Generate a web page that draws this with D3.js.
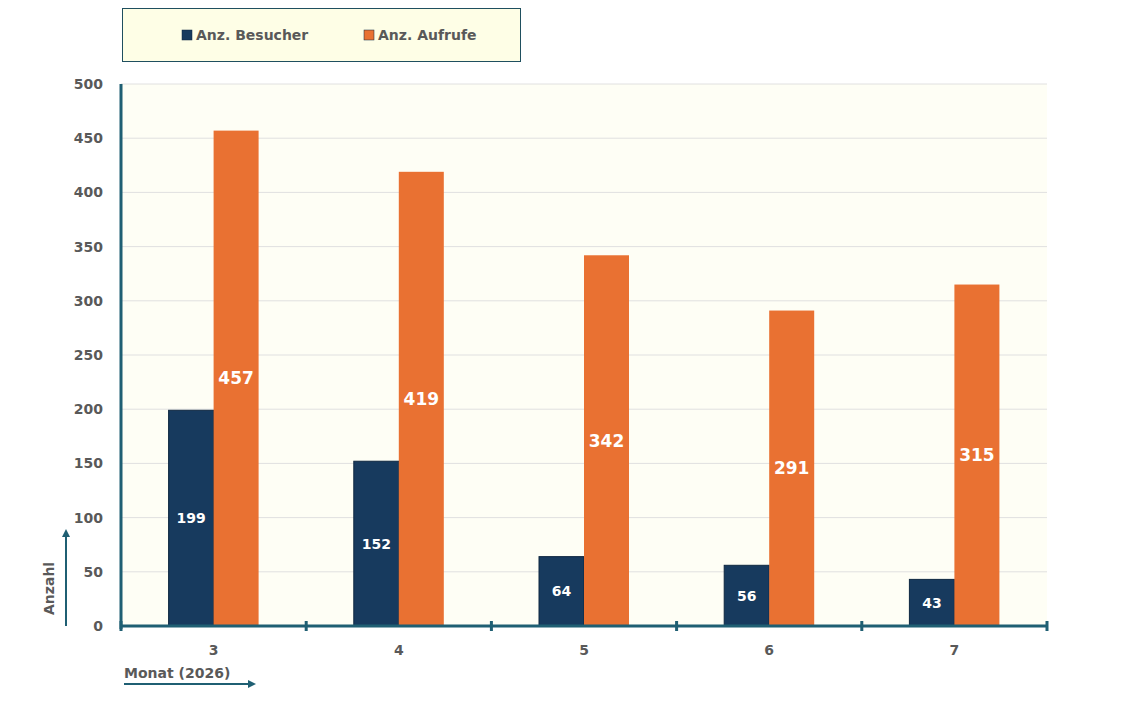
<!DOCTYPE html>
<html>
<head>
<meta charset="utf-8">
<script src="https://cdn.jsdelivr.net/npm/d3@7"></script>
<style>
  body { margin: 0; background: #fff; font-family: "DejaVu Sans", sans-serif; }
</style>
</head>
<body>
<div id="chart"></div>
<script>
    const data = [
        {monat: "3", besucher: 199, aufrufe: 457},
        {monat: "4", besucher: 152, aufrufe: 419},
        {monat: "5", besucher: 64, aufrufe: 342},
        {monat: "6", besucher: 56, aufrufe: 291},
        {monat: "7", besucher: 43, aufrufe: 315}
    ];

    const width = 1123, height = 726;
    const margin = {top: 84, left: 121, right: 76, bottom: 100};
    const axisColor = "#1f5f73";
    const textColor = "#595959";

    const svg = d3.select("#chart").append("svg")
        .attr("width", width).attr("height", height);

    const x = d3.scaleBand()
        .domain(data.map(d => d.monat))
        .range([margin.left, width - margin.right]);

    const y = d3.scaleLinear()
        .domain([0, 500])
        .range([height - margin.bottom, margin.top]);

    // plot background
    svg.append("rect")
        .attr("x", margin.left).attr("y", margin.top)
        .attr("width", width - margin.left - margin.right)
        .attr("height", y(0) - margin.top)
        .attr("fill", "#fefef5");

    // gridlines
    svg.append("g").selectAll("line")
        .data(y.ticks(10).filter(t => t > 0))
        .join("line")
        .attr("x1", margin.left).attr("x2", width - margin.right)
        .attr("y1", d => y(d)).attr("y2", d => y(d))
        .attr("stroke", "#e0e0e0");

    // y labels
    svg.append("g").selectAll("text")
        .data(y.ticks(10))
        .join("text")
        .attr("x", 103).attr("y", d => y(d) + 5)
        .attr("text-anchor", "end")
        .attr("fill", textColor).attr("font-size", 14).attr("font-weight", "bold")
        .text(d => d);

    const bw = 45;
    const series = [
        {key: "besucher", color: "#173a5e", off: -bw, fs: 14},
        {key: "aufrufe", color: "#e97132", off: 0, fs: 17}
    ];

    series.forEach(s => {
        svg.append("g").selectAll("rect")
            .data(data)
            .join("rect")
            .attr("x", d => x(d.monat) + x.bandwidth() / 2 + s.off)
            .attr("y", d => y(d[s.key]))
            .attr("width", bw)
            .attr("height", d => y(0) - y(d[s.key]))
            .attr("fill", s.color)
            .attr("stroke", s.key === "besucher" ? "#0e2741" : "none");

        svg.append("g").selectAll("text")
            .data(data)
            .join("text")
            .attr("x", d => x(d.monat) + x.bandwidth() / 2 + s.off + bw / 2)
            .attr("y", d => (y(d[s.key]) + y(0)) / 2 + s.fs * 0.35)
            .attr("text-anchor", "middle")
            .attr("fill", "#fff").attr("font-size", s.fs).attr("font-weight", "bold")
            .text(d => d[s.key]);
    });

    // axes lines
    svg.append("line")
        .attr("x1", margin.left).attr("x2", margin.left)
        .attr("y1", margin.top).attr("y2", y(0) + 3)
        .attr("stroke", axisColor).attr("stroke-width", 3);
    svg.append("line")
        .attr("x1", margin.left - 1).attr("x2", width - margin.right + 1)
        .attr("y1", y(0)).attr("y2", y(0))
        .attr("stroke", axisColor).attr("stroke-width", 3);

    const tickPos = data.map(d => x(d.monat)).concat([width - margin.right]);
    svg.append("g").selectAll("line")
        .data(tickPos)
        .join("line")
        .attr("x1", d => d).attr("x2", d => d)
        .attr("y1", y(0) - 5).attr("y2", y(0) + 5)
        .attr("stroke", axisColor).attr("stroke-width", 3);

    svg.append("g").selectAll("text")
        .data(data)
        .join("text")
        .attr("x", d => x(d.monat) + x.bandwidth() / 2)
        .attr("y", 655)
        .attr("text-anchor", "middle")
        .attr("fill", textColor).attr("font-size", 14).attr("font-weight", "bold")
        .text(d => d.monat);

    // axis titles with arrows
    const defs = svg.append("defs");
    defs.append("marker").attr("id", "arr")
        .attr("viewBox", "0 0 10 10").attr("refX", 5).attr("refY", 5)
        .attr("markerWidth", 4).attr("markerHeight", 4).attr("orient", "auto")
        .append("path").attr("d", "M0,0L10,5L0,10z").attr("fill", axisColor);

    svg.append("line")
        .attr("x1", 66).attr("x2", 66).attr("y1", 626).attr("y2", 533)
        .attr("stroke", axisColor).attr("stroke-width", 2).attr("marker-end", "url(#arr)");
    svg.append("text")
        .attr("transform", "translate(54,615) rotate(-90)")
        .attr("fill", textColor).attr("font-size", 14).attr("font-weight", "bold")
        .text("Anzahl");

    svg.append("line")
        .attr("x1", 124).attr("x2", 252).attr("y1", 684).attr("y2", 684)
        .attr("stroke", axisColor).attr("stroke-width", 2).attr("marker-end", "url(#arr)");
    svg.append("text")
        .attr("x", 124).attr("y", 678)
        .attr("fill", textColor).attr("font-size", 14).attr("font-weight", "bold")
        .text("Monat (2026)");

    // legend
    const legend = svg.append("g");
    legend.append("rect")
        .attr("x", 122.5).attr("y", 8.5).attr("width", 398).attr("height", 53)
        .attr("fill", "#fefee6").attr("stroke", "#1f4f5f");
    [["Anz. Besucher", "#173a5e", 182], ["Anz. Aufrufe", "#e97132", 364]].forEach(([t, c, lx]) => {
        legend.append("rect").attr("x", lx).attr("y", 30).attr("width", 10).attr("height", 10)
            .attr("fill", c).attr("stroke", "#0e2741").attr("stroke-width", 0.5);
        legend.append("text").attr("x", lx + 14).attr("y", 40)
            .attr("fill", textColor).attr("font-size", 14).attr("font-weight", "bold")
            .text(t);
    });
</script>
</body>
</html>
